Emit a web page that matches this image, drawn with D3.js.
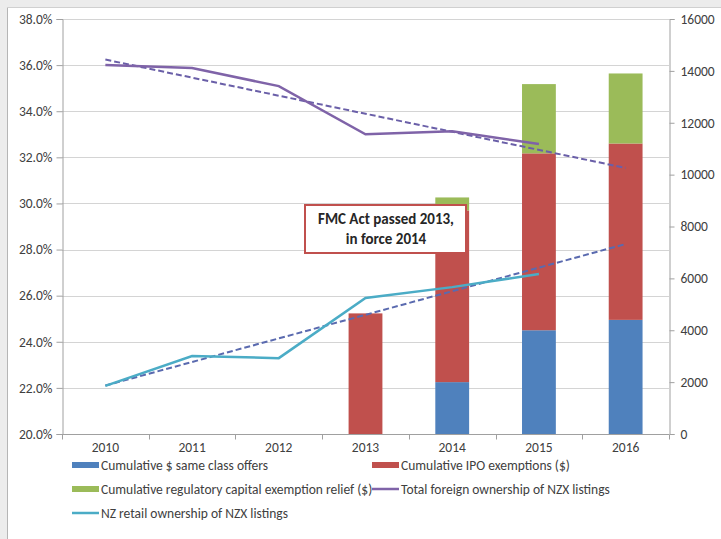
<!DOCTYPE html>
<html><head><meta charset="utf-8">
<script src="https://cdn.jsdelivr.net/npm/d3@7"></script>
<style>
html,body{margin:0;padding:0;background:#fff;}
svg{display:block;font-family:Carlito,Lato,"Liberation Sans",sans-serif;}
</style></head>
<body><svg id="c" width="721" height="539"></svg>
<script>
const years = ["2010","2011","2012","2013","2014","2015","2016"];
const sameClass = [0, 0, 0, 0, 2000, 4000, 4400];
const ipoExempt = [0, 0, 0, 4650, 6620, 6820, 6800];
const regCapital = [0, 0, 0, 0, 500, 2670, 2700];
const foreignOwn = [36.0, 35.87, 35.09, 33.0, 33.13, 32.58, null];
const retailOwn = [22.09, 23.38, 23.29, 25.9, 26.37, 26.94, null];
const foreignTrend = [36.24, 31.54]; // 2010 -> 2016
const retailTrend = [22.1, 28.24];   // 2010 -> 2016
const leftTicks = [20,22,24,26,28,30,32,34,36,38];
const rightTicks = [0,2000,4000,6000,8000,10000,12000,14000,16000];
const annotation = ["FMC Act passed 2013,", "in force 2014"];
const legendItems = [
  {name:"Cumulative $ same class offers", type:"rect", color:"#4f81bd"},
  {name:"Cumulative IPO exemptions ($)", type:"rect", color:"#c0504d"},
  {name:"Cumulative regulatory capital exemption relief ($)", type:"rect", color:"#9bbb59"},
  {name:"Total foreign ownership of NZX listings", type:"line", color:"#7f63a8"},
  {name:"NZ retail ownership of NZX listings", type:"line", color:"#4bacc6"}
];

const svg = d3.select("#c");
// frame
svg.append("rect").attr("x",0).attr("y",0).attr("width",721).attr("height",539).attr("fill","#ececec");
svg.append("rect").attr("x",7).attr("y",7).attr("width",714).attr("height",532).attr("fill","#fff");
svg.append("line").attr("x1",7.5).attr("x2",7.5).attr("y1",7).attr("y2",539).attr("stroke","#b5b5b5");
svg.append("line").attr("x1",7).attr("x2",721).attr("y1",7.5).attr("y2",7.5).attr("stroke","#d0d0d0");

const L = 62, R = 669, T = 19, B = 434;
const x = d3.scaleBand().domain(years).range([L,R]).paddingInner(0.61).paddingOuter(0.305);
const yL = d3.scaleLinear().domain([20,38]).range([B,T]);
const yR = d3.scaleLinear().domain([0,16000]).range([B,T]);
const cx = d => x(d) + x.bandwidth()/2;

// gridlines
svg.append("g").selectAll("line").data(leftTicks.slice(1)).join("line")
  .attr("x1",L).attr("x2",R).attr("y1",d=>Math.round(yL(d))+0.5).attr("y2",d=>Math.round(yL(d))+0.5)
  .attr("stroke","#d4d4d4").attr("stroke-width",1);

// left axis
const gl = svg.append("g").attr("transform",`translate(${L+0.5},0)`)
  .call(d3.axisLeft(yL).tickValues(leftTicks).tickFormat(d=>d3.format(".1f")(d)+"%").tickSizeOuter(0).tickSize(6).tickPadding(4));
// right axis
const gr = svg.append("g").attr("transform",`translate(${R+0.5},0)`)
  .call(d3.axisRight(yR).tickValues(rightTicks).tickFormat(d3.format("d")).tickSizeOuter(0).tickSize(5).tickPadding(6));
[gl,gr].forEach(g=>{
  g.select(".domain").attr("stroke","#a0a0a0");
  g.selectAll(".tick line").attr("stroke","#a0a0a0");
  g.selectAll("text").attr("fill","#404040").style("font-size","13.5px").style("font-family","Carlito,Lato,sans-serif");
});

// stacked bars
const stackData = years.map((y,i)=>({year:y, s:sameClass[i], ipo:ipoExempt[i], reg:regCapital[i]}));
const stack = d3.stack().keys(["s","ipo","reg"])(stackData);
const barColors = {s:"#4f81bd", ipo:"#c0504d", reg:"#9bbb59"};
svg.append("g").selectAll("g").data(stack).join("g").attr("fill",d=>barColors[d.key])
  .selectAll("rect").data(d=>d).join("rect")
  .attr("x",d=>x(d.data.year)).attr("width",x.bandwidth())
  .attr("y",d=>yR(d[1])).attr("height",d=>Math.max(0,yR(d[0])-yR(d[1])));

// bottom axis
const gb = svg.append("g").attr("transform",`translate(0,${B+0.5})`);
gb.append("line").attr("x1",L).attr("x2",R).attr("stroke","#a0a0a0");
const step = x.step();
gb.selectAll("line.t").data(d3.range(years.length+1)).join("line").attr("class","t")
  .attr("x1",i=>Math.round(L+i*step)+0.5).attr("x2",i=>Math.round(L+i*step)+0.5).attr("y1",0).attr("y2",5).attr("stroke","#a0a0a0");
gb.selectAll("text").data(years).join("text").attr("x",d=>cx(d)).attr("y",17.5)
  .attr("text-anchor","middle").attr("fill","#404040").style("font-size","13.5px").text(d=>d);

// trend lines
const xEnds = [cx(years[0]), cx(years[years.length-1])];
[[foreignTrend,"#6a5fa8"],[retailTrend,"#5a6aaf"]].forEach(([t,c])=>{
  svg.append("line").attr("x1",xEnds[0]).attr("x2",xEnds[1]).attr("y1",yL(t[0])).attr("y2",yL(t[1]))
    .attr("stroke",c).attr("stroke-width",2).attr("stroke-dasharray","6,3");
});

// lines
const line = d3.line().defined(d=>d.v!=null).x(d=>cx(d.y)).y(d=>yL(d.v));
svg.append("path").datum(years.map((y,i)=>({y,v:foreignOwn[i]}))).attr("d",line)
  .attr("fill","none").attr("stroke","#7f63a8").attr("stroke-width",2.5);
svg.append("path").datum(years.map((y,i)=>({y,v:retailOwn[i]}))).attr("d",line)
  .attr("fill","none").attr("stroke","#4bacc6").attr("stroke-width",2.5);

// annotation
const ag = svg.append("g");
ag.append("rect").attr("x",305).attr("y",205).attr("width",161).attr("height",48)
  .attr("fill","#fff").attr("stroke","#c0504d").attr("stroke-width",2);
ag.selectAll("text").data(annotation).join("text").attr("x",386).attr("y",(d,i)=>224+i*19.5)
  .attr("text-anchor","middle").attr("font-weight","bold").attr("fill","#262626").style("font-size","15px").text(d=>d);

// legend
const legPos = [[72,465],[372,465],[72,489],[372,489],[72,513]];
const lg = svg.append("g");
legendItems.forEach((it,i)=>{
  const [lx,ly] = legPos[i];
  if(it.type==="rect") lg.append("rect").attr("x",lx).attr("y",ly-3).attr("width",27).attr("height",6).attr("fill",it.color);
  else lg.append("line").attr("x1",lx).attr("x2",lx+27).attr("y1",ly).attr("y2",ly).attr("stroke",it.color).attr("stroke-width",2.5);
  lg.append("text").attr("x",lx+29).attr("y",ly+5).attr("fill","#404040").style("font-size","13.5px").text(it.name);
});
</script></body></html>
